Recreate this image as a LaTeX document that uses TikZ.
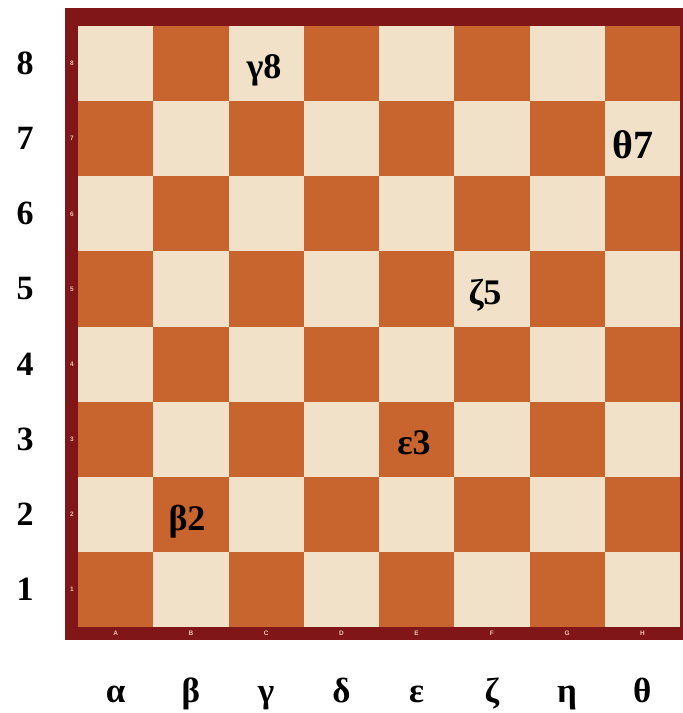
\documentclass[tikz,border=0pt]{standalone}
\usepackage{fontspec}
\setmainfont{Liberation Serif}
\setsansfont{Liberation Sans}

\definecolor{darksq}{RGB}{200,100,46}
\definecolor{lightsq}{RGB}{240,225,200}
\definecolor{boardrim}{RGB}{128,22,24}
\definecolor{rimtext}{RGB}{238,196,180}

\begin{document}
\begin{tikzpicture}[
                x=1pt, y=-1pt,
                ranklabel/.style={font=\fontsize{34}{34}\selectfont\bfseries, inner sep=0pt},
                filelabel/.style={font=\fontsize{35}{35}\selectfont\bfseries, anchor=base, inner sep=0pt},
                squarelabel/.style={font=\fontsize{36}{36}\selectfont\bfseries, anchor=base, inner sep=0pt},
                rimlabel/.style={font=\sffamily\bfseries\fontsize{6.5}{6.5}\selectfont, text=rimtext, inner sep=0pt}
            ]

            \useasboundingbox (0,0) rectangle (683,713);

            % frame and squares
            \fill[boardrim] (65,8) rectangle (683,640);
            \foreach \i in {1,...,8}
            \foreach \r in {1,...,8} {
                    \pgfmathtruncatemacro\sqpar{mod(\i+\r,2)}
                    \pgfmathsetmacro\xl{78+(\i-1)*75.25}
                    \pgfmathsetmacro\yt{26+(8-\r)*75.125}
                    \ifnum\sqpar=0
                        \fill[darksq] (\xl,\yt) rectangle ++(75.25,75.125);
                    \else
                        \fill[lightsq] (\xl,\yt) rectangle ++(75.25,75.125);
                    \fi
                }

            % ranks
            \foreach \r in {1,...,8} {
                    \pgfmathsetmacro\yc{26+(8.5-\r)*75.125}
                    \node[ranklabel] (rank\r) at (25,\yc) {\r};
                    \node[rimlabel] (rim\r) at (72,\yc) {\r};
                }

            % files
            \foreach \f/\g/\k [count=\i] in {A/α/a, B/β/b, C/γ/c, D/δ/d, E/ε/e, F/ζ/f, G/η/g, H/θ/h} {
                    \pgfmathsetmacro\xc{78+(\i-0.5)*75.25}
                    \node[filelabel] (file\k) at (\xc,702) {\g};
                    \node[rimlabel] (rim\k) at (\xc,633) {\f};
                }

            % marked squares
            \node[squarelabel] (c8) at (264,78) {γ8};
            \node[squarelabel, font=\fontsize{40}{40}\selectfont\bfseries] (h7) at (633,158) {θ7};
            \node[squarelabel] (f5) at (485,304) {ζ5};
            \node[squarelabel] (e3) at (414,454) {ε3};
            \node[squarelabel] (b2) at (187,530) {β2};

        \end{tikzpicture}
\end{document}
